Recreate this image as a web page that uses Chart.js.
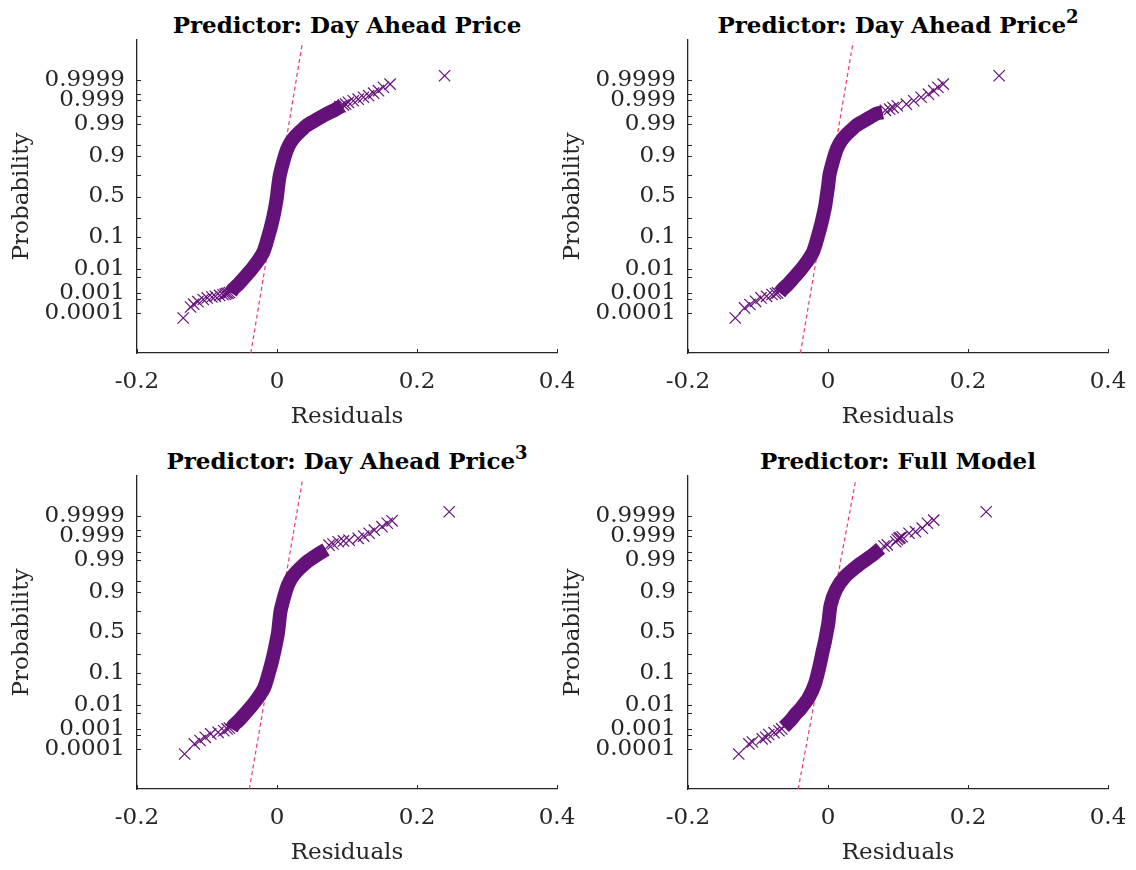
<!DOCTYPE html>
<html>
<head>
<meta charset="utf-8">
<script src="https://cdn.jsdelivr.net/npm/chart.js@4.4.1/dist/chart.umd.min.js"></script>
<style>
  html, body { margin: 0; padding: 0; background: #fff; width: 1136px; height: 870px; overflow: hidden; }
  canvas { position: absolute; }
  .ttl { position: absolute; width: 420px; text-align: center; font: bold 23px "DejaVu Serif"; line-height: 26px; color: #000; white-space: nowrap; }
  .ttl sup { font-size: 0.78em; line-height: 0; vertical-align: 0.55em; }
</style>
</head>
<body>
<div class="ttl" style="left:137px; top:12px;">Predictor: Day Ahead Price</div>
<div class="ttl" style="left:688px; top:12px;">Predictor: Day Ahead Price<sup>2</sup></div>
<div class="ttl" style="left:137px; top:448px;">Predictor: Day Ahead Price<sup>3</sup></div>
<div class="ttl" style="left:688px; top:448px;">Predictor: Full Model</div>

<canvas id="c1" width="580" height="435" style="left:0; top:0;"></canvas>
<canvas id="c2" width="585" height="435" style="left:551px; top:0;"></canvas>
<canvas id="c3" width="580" height="434" style="left:0; top:436px;"></canvas>
<canvas id="c4" width="585" height="434" style="left:551px; top:436px;"></canvas>

<script>
// probability axis ticks (normal probability paper)
const probTicks = [0.0001, 0.0005, 0.001, 0.005, 0.01, 0.05, 0.1, 0.25, 0.5, 0.75, 0.9, 0.95, 0.99, 0.995, 0.999, 0.9995, 0.9999];
const probLabels = [0.0001, 0.001, 0.01, 0.1, 0.5, 0.9, 0.99, 0.999, 0.9999];
const probMin = 2.8665e-7;        // z = -5
const probMax = 0.99999971335;    // z = +5
const residTicks = [-0.2, 0, 0.2, 0.4];

// Day Ahead Price
const p1BandResid = [-0.066, -0.063, -0.055, -0.047, -0.039, -0.032, -0.0255, -0.020, -0.016, -0.0125, -0.009, -0.005, -0.0022, 0, 0.0015, 0.004, 0.0075, 0.011, 0.0145, 0.020, 0.026, 0.034, 0.042, 0.052, 0.062, 0.072, 0.083, 0.093];
const p1BandProb = [0.001035, 0.001489, 0.002555, 0.004661, 0.008198, 0.0139, 0.02275, 0.03593, 0.06057, 0.1003, 0.1587, 0.2676, 0.3821, 0.5, 0.6179, 0.7517, 0.8413, 0.8997, 0.9345, 0.9599, 0.9726, 0.9821, 0.9881, 0.9918, 0.9943, 0.996, 0.9972, 0.99815];
const p1TailResid = [-0.134, -0.1235, -0.119, -0.113, -0.1054, -0.0997, -0.093, -0.088, -0.082, -0.077, -0.074, -0.072, -0.070, -0.068, 0.090, 0.095, 0.098, 0.102, 0.109, 0.116, 0.1235, 0.131, 0.138, 0.145, 0.152, 0.1616, 0.2394];
const p1TailProb = [0.000052, 0.000208, 0.000291, 0.00039, 0.000501, 0.000598, 0.000664, 0.000711, 0.000789, 0.000845, 0.000904, 0.000968, 0.001, 0.00108, 0.99795, 0.99825, 0.99841, 0.99869, 0.99889, 0.99906, 0.99924, 0.99936, 0.99952, 0.99964, 0.99976, 0.999835, 0.999943];
const p1RefResid = [-0.0374, 0.0364];
const p1RefProb = [2.87e-7, 0.99999959];

// Day Ahead Price^2
const p2BandResid = [-0.069, -0.065, -0.057, -0.049, -0.041, -0.034, -0.0275, -0.022, -0.018, -0.0145, -0.011, -0.007, -0.004, -0.002, 0, 0.002, 0.0055, 0.009, 0.0125, 0.018, 0.024, 0.032, 0.040, 0.050, 0.060, 0.070, 0.078];
const p2BandProb = [0.001035, 0.001489, 0.002555, 0.004661, 0.008198, 0.0139, 0.02275, 0.03593, 0.06057, 0.1003, 0.1587, 0.2676, 0.3821, 0.5, 0.6179, 0.7517, 0.8413, 0.8997, 0.9345, 0.9599, 0.9726, 0.9821, 0.9881, 0.9918, 0.9943, 0.996, 0.99643];
const p2TailResid = [-0.1325, -0.1193, -0.1115, -0.1036, -0.0957, -0.0878, -0.080, -0.075, -0.072, 0.082, 0.088, 0.093, 0.099, 0.112, 0.1225, 0.133, 0.1435, 0.151, 0.157, 0.1646, 0.2445];
const p2TailProb = [0.000052, 0.000185, 0.00028, 0.000404, 0.000598, 0.000711, 0.000874, 0.00096, 0.001035, 0.99705, 0.99737, 0.99775, 0.99813, 0.99841, 0.99889, 0.99924, 0.99946, 0.99964, 0.99976, 0.999835, 0.999943];
const p2RefResid = [-0.0394, 0.0358];
const p2RefProb = [2.87e-7, 0.99999959];

// Day Ahead Price^3
const p3BandResid = [-0.065, -0.062, -0.054, -0.046, -0.038, -0.031, -0.0245, -0.019, -0.015, -0.0115, -0.008, -0.004, -0.001, 0.0015, 0.003, 0.005, 0.0085, 0.012, 0.0155, 0.021, 0.027, 0.035, 0.043, 0.052, 0.061, 0.070];
const p3BandProb = [0.001035, 0.001489, 0.002555, 0.004661, 0.008198, 0.0139, 0.02275, 0.03593, 0.06057, 0.1003, 0.1587, 0.2676, 0.3821, 0.5, 0.6179, 0.7517, 0.8413, 0.8997, 0.9345, 0.9599, 0.9726, 0.9821, 0.9881, 0.9918, 0.9943, 0.996];
const p3TailResid = [-0.132, -0.118, -0.110, -0.1025, -0.0946, -0.0842, -0.076, -0.0712, -0.068, 0.0744, 0.080, 0.0874, 0.095, 0.103, 0.116, 0.1238, 0.1316, 0.139, 0.150, 0.1575, 0.1643, 0.246];
const p3TailProb = [0.000052, 0.000185, 0.00028, 0.000404, 0.000598, 0.000711, 0.00085, 0.001035, 0.00112, 0.99737, 0.99765, 0.99813, 0.99828, 0.99841, 0.99869, 0.998965, 0.99924, 0.99946, 0.99964, 0.99976, 0.99982, 0.999943];
const p3RefResid = [-0.0395, 0.0364];
const p3RefProb = [2.87e-7, 0.99999944];

// Full Model
const p4BandResid = [-0.063, -0.0607, -0.0535, -0.046, -0.0392, -0.0273, -0.0187, -0.013, -0.0073, -0.0045, -0.002, 0.0005, 0.0037, 0.0117, 0.0242, 0.0432, 0.0632, 0.0752];
const p4BandProb = [0.001264, 0.001489, 0.002477, 0.004661, 0.007344, 0.01923, 0.0505, 0.123, 0.2843, 0.3821, 0.5, 0.6179, 0.8078, 0.9162, 0.9625, 0.9842, 0.9932, 0.99643];
const p4TailResid = [-0.1275, -0.113, -0.108, -0.094, -0.089, -0.0846, -0.077, -0.070, -0.066, 0.080, 0.0847, 0.0967, 0.099, 0.1014, 0.103, 0.106, 0.1157, 0.125, 0.1347, 0.142, 0.151, 0.226];
const p4TailProb = [0.000052, 0.000185, 0.000233, 0.000337, 0.000404, 0.000557, 0.000687, 0.000845, 0.001035, 0.99715, 0.99744, 0.99813, 0.99851, 0.99869, 0.99878, 0.99889, 0.99924, 0.99936, 0.99957, 0.99976, 0.999835, 0.999943];
const p4RefResid = [-0.0426, 0.0394];
const p4RefProb = [2.87e-7, 0.99999938];

const markColor = '#64117a';
const refColor = '#ee3d6b';
const axisColor = '#262626';
const tickFont = { family: 'DejaVu Serif', size: 23 };
const labelFont = { family: 'DejaVu Serif', size: 23 };

// inverse normal CDF (Acklam) used by the probability axis
function probit(p) {
  const a = [-39.69683028665376, 220.9460984245205, -275.9285104469687, 138.3577518672690, -30.66479806614716, 2.506628277459239];
  const b = [-54.47609879822406, 161.5858368580409, -155.6989798598866, 66.80131188771972, -13.28068155288572];
  const c = [-0.007784894002430293, -0.3223964580411365, -2.400758277161838, -2.549732539343734, 4.374664141464968, 2.938163982698783];
  const d = [0.007784695709041462, 0.3224671290700398, 2.445134137142996, 3.754408661907416];
  const tail = q => (((((c[0] * q + c[1]) * q + c[2]) * q + c[3]) * q + c[4]) * q + c[5]) /
                    ((((d[0] * q + d[1]) * q + d[2]) * q + d[3]) * q + 1);
  if (p < 0.02425) return tail(Math.sqrt(-2 * Math.log(p)));
  if (p > 0.97575) return -tail(Math.sqrt(-2 * Math.log(1 - p)));
  const q = p - 0.5, r = q * q;
  return (((((a[0] * r + a[1]) * r + a[2]) * r + a[3]) * r + a[4]) * r + a[5]) * q /
         (((((b[0] * r + b[1]) * r + b[2]) * r + b[3]) * r + b[4]) * r + 1);
}

class ProbitScale extends Chart.Scale {
  determineDataLimits() {
    this.min = this.options.min;
    this.max = this.options.max;
  }
  buildTicks() {
    return probTicks.map(value => ({ value }));
  }
  configure() {
    super.configure();
    this._zStart = probit(this.min);
    this._zEnd = probit(this.max);
  }
  getPixelForValue(value) {
    return this.getPixelForDecimal((probit(value) - this._zStart) / (this._zEnd - this._zStart));
  }
  getPixelForTick(index) {
    const ticks = this.ticks;
    if (index < 0 || index > ticks.length - 1) return null;
    return this.getPixelForValue(ticks[index].value);
  }
  getValueForPixel() {
    return null;
  }
}
ProbitScale.id = 'probit';
ProbitScale.defaults = {};
Chart.register(ProbitScale);

// short tick marks pointing into the plot area
const inwardTicks = {
  id: 'inwardTicks',
  afterDraw(chart) {
    const { ctx, chartArea } = chart;
    const xs = chart.scales.x, ys = chart.scales.y;
    ctx.save();
    ctx.strokeStyle = axisColor;
    ctx.lineWidth = 1;
    ctx.beginPath();
    xs.ticks.forEach((t, i) => {
      const px = Math.round(xs.getPixelForTick(i)) + 0.5;
      ctx.moveTo(px, chartArea.bottom);
      ctx.lineTo(px, chartArea.bottom - 4);
    });
    ys.ticks.forEach((t, i) => {
      const py = Math.round(ys.getPixelForTick(i)) + 0.5;
      ctx.moveTo(chartArea.left, py);
      ctx.lineTo(chartArea.left + 4, py);
    });
    ctx.stroke();
    ctx.restore();
  }
};

const toPoints = (xs, ps) => xs.map((x, i) => ({ x, y: ps[i] }));

function drawPanel(id, bandX, bandP, tailX, tailP, refX, refP) {
  const canvas = document.getElementById(id);
  const xAxisH = canvas.height - 353;
  new Chart(canvas, {
    type: 'scatter',
    data: {
      datasets: [
        {
          data: toPoints(tailX, tailP),
          pointStyle: 'crossRot', pointRadius: 8, pointBorderWidth: 1.2,
          borderColor: markColor, backgroundColor: 'transparent', order: 0
        },
        {
          data: toPoints(bandX, bandP),
          showLine: true, borderColor: markColor, borderWidth: 14, tension: 0.25,
          borderCapStyle: 'butt', borderJoinStyle: 'round', pointRadius: 0, order: 1
        },
        {
          data: toPoints(refX, refP),
          showLine: true, borderColor: refColor, borderWidth: 1.2, borderDash: [4, 3],
          pointRadius: 0, order: 2
        }
      ]
    },
    options: {
      responsive: false,
      devicePixelRatio: 1,
      animation: false,
      events: [],
      layout: { padding: { left: 0, top: 40, right: canvas.width - 557, bottom: 0 } },
      plugins: { legend: { display: false }, tooltip: { enabled: false } },
      scales: {
        x: {
          type: 'linear', min: -0.2, max: 0.4,
          afterBuildTicks: s => { s.ticks = residTicks.map(v => ({ value: v })); },
          afterFit: s => { s.height = xAxisH; s.paddingLeft = 0; s.paddingRight = 0; },
          grid: { display: false, drawTicks: false },
          border: { display: true, color: axisColor, width: 1.3 },
          ticks: { color: axisColor, font: tickFont, padding: 15, maxRotation: 0, autoSkip: false, callback: v => String(v) },
          title: { display: true, text: 'Residuals', color: axisColor, font: labelFont, padding: { top: 0, bottom: xAxisH - 82 + 4 } }
        },
        y: {
          type: 'probit', position: 'left', min: probMin, max: probMax,
          afterFit: s => { s.width = 137; s.paddingTop = 0; s.paddingBottom = 0; },
          grid: { display: false, drawTicks: false },
          border: { display: true, color: axisColor, width: 1.3 },
          ticks: { color: axisColor, font: tickFont, padding: 12, autoSkip: false, callback: v => probLabels.includes(v) ? String(v) : '' },
          title: { display: true, text: 'Probability', color: axisColor, font: labelFont, padding: { top: 8, bottom: 0 } }
        }
      }
    },
    plugins: [inwardTicks]
  });
}

drawPanel('c1', p1BandResid, p1BandProb, p1TailResid, p1TailProb, p1RefResid, p1RefProb);
drawPanel('c2', p2BandResid, p2BandProb, p2TailResid, p2TailProb, p2RefResid, p2RefProb);
drawPanel('c3', p3BandResid, p3BandProb, p3TailResid, p3TailProb, p3RefResid, p3RefProb);
drawPanel('c4', p4BandResid, p4BandProb, p4TailResid, p4TailProb, p4RefResid, p4RefProb);
</script>
</body>
</html>
